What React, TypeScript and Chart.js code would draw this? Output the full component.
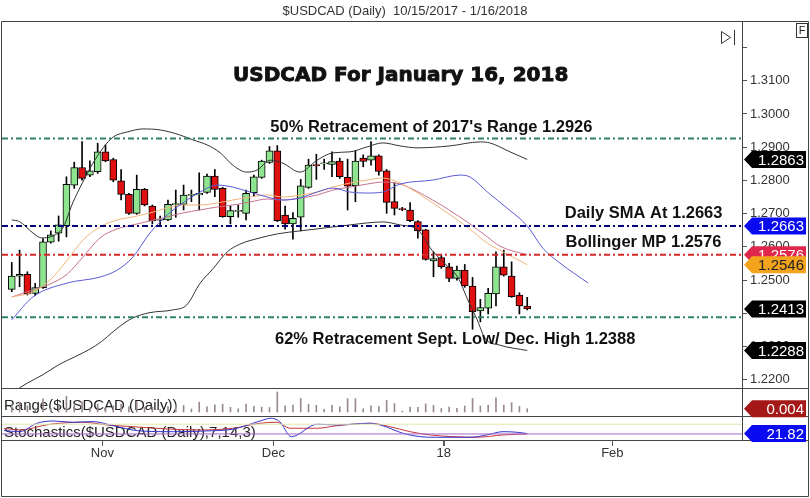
import React, { useEffect, useRef } from 'react';
import { Chart, registerables } from 'chart.js';

Chart.register(...registerables);

const FONT = "'Liberation Sans', Arial, Helvetica, sans-serif";

// ---------- DATA ----------
const opens = [1.2472, 1.2512, 1.2517, 1.2460, 1.2477, 1.2614, 1.2641, 1.2664, 1.2786, 1.2839, 1.2816, 1.2826, 1.2886, 1.2863, 1.2799, 1.2758, 1.2701, 1.2773, 1.2723, 1.2680, 1.2681, 1.2727, 1.2728, 1.2755, 1.2756, 1.2764, 1.2813, 1.2776, 1.2691, 1.2707, 1.2701, 1.2763, 1.2809, 1.2854, 1.2889, 1.2696, 1.2669, 1.2689, 1.2779, 1.2848, 1.2850, 1.2848, 1.2858, 1.2809, 1.2784, 1.2867, 1.2861, 1.2874, 1.2829, 1.2736, 1.2715, 1.2711, 1.2676, 1.2651, 1.2558, 1.2568, 1.2540, 1.2505, 1.2530, 1.2482, 1.2407, 1.2415, 1.2458, 1.2540, 1.2512, 1.2455, 1.2422];
const highs = [1.2553, 1.2590, 1.2525, 1.2490, 1.2625, 1.2648, 1.2693, 1.2811, 1.2855, 1.2917, 1.2859, 1.2912, 1.2907, 1.2867, 1.2833, 1.2761, 1.2816, 1.2776, 1.2726, 1.2693, 1.2741, 1.2771, 1.2786, 1.2771, 1.2823, 1.2819, 1.2833, 1.2779, 1.2723, 1.2726, 1.2771, 1.2816, 1.2861, 1.2902, 1.2905, 1.2723, 1.2703, 1.2803, 1.2864, 1.2879, 1.2864, 1.2886, 1.2867, 1.2864, 1.2889, 1.2877, 1.2917, 1.2877, 1.2833, 1.2793, 1.2719, 1.2733, 1.2679, 1.2653, 1.2585, 1.2575, 1.2550, 1.2542, 1.2547, 1.2508, 1.2442, 1.2475, 1.2585, 1.2590, 1.2555, 1.2462, 1.2448];
const lows = [1.2465, 1.2480, 1.2455, 1.2453, 1.2475, 1.2611, 1.2617, 1.2630, 1.2776, 1.2801, 1.2811, 1.2821, 1.2856, 1.2796, 1.2741, 1.2698, 1.2698, 1.2723, 1.2669, 1.2666, 1.2679, 1.2689, 1.2711, 1.2736, 1.2711, 1.2761, 1.2751, 1.2689, 1.2669, 1.2689, 1.2681, 1.2751, 1.2806, 1.2851, 1.2676, 1.2653, 1.2623, 1.2648, 1.2776, 1.2803, 1.2833, 1.2811, 1.2806, 1.2711, 1.2736, 1.2841, 1.2846, 1.2816, 1.2701, 1.2696, 1.2709, 1.2676, 1.2626, 1.2560, 1.2510, 1.2535, 1.2495, 1.2500, 1.2478, 1.2352, 1.2374, 1.2398, 1.2422, 1.2512, 1.2448, 1.2398, 1.2410];
const closes = [1.2512, 1.2517, 1.2458, 1.2477, 1.2615, 1.2636, 1.2666, 1.2788, 1.2839, 1.2806, 1.2829, 1.2886, 1.2859, 1.2801, 1.2758, 1.2701, 1.2773, 1.2726, 1.2679, 1.2682, 1.2728, 1.2730, 1.2756, 1.2757, 1.2761, 1.2813, 1.2773, 1.2691, 1.2709, 1.2710, 1.2761, 1.2811, 1.2858, 1.2889, 1.2679, 1.2669, 1.2686, 1.2784, 1.2846, 1.2844, 1.2852, 1.2857, 1.2811, 1.2783, 1.2858, 1.2857, 1.2874, 1.2827, 1.2734, 1.2716, 1.2712, 1.2679, 1.2648, 1.2562, 1.2565, 1.2540, 1.2505, 1.2530, 1.2482, 1.2405, 1.2417, 1.2460, 1.2540, 1.2515, 1.2450, 1.2422, 1.2413];
const dailyRange = [0.0088, 0.0110, 0.0070, 0.0037, 0.0150, 0.0037, 0.0076, 0.0181, 0.0079, 0.0116, 0.0048, 0.0091, 0.0051, 0.0071, 0.0092, 0.0063, 0.0118, 0.0053, 0.0057, 0.0027, 0.0062, 0.0082, 0.0075, 0.0035, 0.0112, 0.0058, 0.0082, 0.0090, 0.0054, 0.0037, 0.0090, 0.0065, 0.0055, 0.0051, 0.0229, 0.0070, 0.0080, 0.0155, 0.0088, 0.0076, 0.0031, 0.0075, 0.0061, 0.0153, 0.0153, 0.0036, 0.0071, 0.0061, 0.0132, 0.0097, 0.0010, 0.0057, 0.0053, 0.0093, 0.0075, 0.0040, 0.0055, 0.0042, 0.0069, 0.0156, 0.0068, 0.0077, 0.0163, 0.0078, 0.0107, 0.0064, 0.0038];

// [bar index, value]
const bbUpper = [[0, 1.2681], [1, 1.2676], [2.7, 1.2642], [3.8, 1.2627], [5.3, 1.2633], [6.6, 1.2660], [7.8, 1.2732], [9.1, 1.2795], [10.4, 1.2852], [11.7, 1.2898], [13, 1.2931], [14.8, 1.2946], [16.8, 1.2955], [19, 1.2952], [21.5, 1.2937], [23.2, 1.2922], [25, 1.2907], [26.7, 1.2883], [28.3, 1.2846], [30.1, 1.2825], [31.4, 1.2831], [33.1, 1.2861], [34.7, 1.2852], [36.9, 1.2825], [39.1, 1.2861], [41.1, 1.2883], [43.3, 1.2886], [45.5, 1.2901], [47.5, 1.2913], [49.7, 1.2904], [51.9, 1.2898], [56.1, 1.2904], [60, 1.2916], [61.2, 1.2913], [63.8, 1.2886], [66, 1.2863]];
const bbLower = [[0, 1.2160], [2, 1.2190], [4, 1.2215], [6, 1.2245], [8, 1.2268], [10, 1.2292], [11.5, 1.2315], [13, 1.2345], [14.5, 1.2372], [15.5, 1.2386], [17.7, 1.2402], [20.6, 1.2410], [22.4, 1.2425], [24.1, 1.2490], [25.8, 1.2535], [27.6, 1.2585], [29.2, 1.2608], [31.8, 1.2627], [34, 1.2639], [36.9, 1.2648], [39.1, 1.2654], [41.1, 1.2660], [43.3, 1.2666], [45.5, 1.2672], [47.5, 1.2675], [49.7, 1.2666], [52, 1.2651], [53.8, 1.2590], [55.9, 1.2539], [57.1, 1.2509], [58.4, 1.2440], [59.6, 1.2380], [60.6, 1.2325], [62.5, 1.2304], [66, 1.2288]];
const bbMiddle = [[0, 1.2449], [2.7, 1.2470], [4.9, 1.2488], [7.1, 1.2518], [9.1, 1.2569], [11.3, 1.2627], [13.5, 1.2654], [15.5, 1.2666], [17.7, 1.2678], [19.9, 1.2690], [21.9, 1.2702], [24.1, 1.2711], [26.3, 1.2720], [28.3, 1.2726], [30.5, 1.2735], [32.7, 1.2744], [34.7, 1.2741], [36.9, 1.2747], [39.1, 1.2756], [41.1, 1.2771], [43.3, 1.2780], [45.5, 1.2789], [47.5, 1.2795], [49.7, 1.2789], [53.9, 1.2741], [58.3, 1.2675], [60.9, 1.2630], [62.5, 1.2602], [66, 1.2576]];
const emaOrange = [[0, 1.2449], [2.7, 1.2464], [4.9, 1.2500], [7.1, 1.2560], [9.1, 1.2620], [11.3, 1.2660], [13.5, 1.2681], [15.5, 1.2690], [17.7, 1.2702], [19.9, 1.2717], [21.9, 1.2726], [24.1, 1.2726], [26.3, 1.2732], [28.3, 1.2741], [30.5, 1.2750], [32.7, 1.2756], [34.7, 1.2750], [36.9, 1.2756], [39.1, 1.2765], [41.1, 1.2780], [43.3, 1.2792], [45.5, 1.2801], [47.5, 1.2807], [49.7, 1.2792], [53.9, 1.2732], [58.3, 1.2660], [60.9, 1.2611], [62.5, 1.2590], [66, 1.2546]];
const smaBlue = [[0, 1.2380], [2.7, 1.2449], [7.1, 1.2491], [11.3, 1.2509], [13.5, 1.2530], [15.5, 1.2569], [17.7, 1.2642], [19.9, 1.2696], [21.9, 1.2732], [24.1, 1.2765], [26.3, 1.2786], [28.3, 1.2780], [30.5, 1.2765], [32.7, 1.2750], [34.7, 1.2741], [36.9, 1.2747], [39.1, 1.2765], [41.1, 1.2777], [43.3, 1.2765], [45.5, 1.2762], [47.5, 1.2765], [49.7, 1.2789], [53.9, 1.2801], [57.4, 1.2816], [58.7, 1.2810], [60.9, 1.2765], [63.4, 1.2717], [66, 1.2663], [68, 1.2596], [70.2, 1.2551], [73.8, 1.2491]];
const stochK = [[-1, 36], [1, 30.5], [3.2, 69], [5.3, 80], [7.8, 74], [10.4, 77], [13, 58], [16.4, 34], [20.7, 30.5], [25, 34], [28.3, 42], [31.8, 80], [33.1, 92.6], [34.3, 77], [35.8, 7.4], [39.1, 65], [41.6, 61.6], [45.9, 69.4], [47.5, 58], [50.1, 23], [52.3, 7.4], [54.4, 4.6], [58.7, 4.6], [60.8, 15.3], [62.9, 30.5], [64.7, 27.8], [66, 21.82]];
const stochD = [[-1, 46], [1, 38.4], [4.9, 64.8], [9.1, 74], [12.2, 61.6], [15.5, 53.7], [19.9, 43], [24.1, 38.4], [28.3, 46.3], [31.8, 69.4], [34, 74], [35.6, 46.3], [39.1, 46.3], [41.6, 58], [45.9, 69.4], [48.4, 53.7], [51, 30.5], [53.6, 15.3], [56.5, 7.4], [59.5, 4.6], [62.9, 15.3], [66, 20]];

const levelValues = [1.2926, 1.2663, 1.2576, 1.2388];
const stochLevels = [65, 20];
const priceTicks = [1.22, 1.23, 1.24, 1.25, 1.26, 1.27, 1.28, 1.29, 1.30, 1.31, 1.32];
const dateTickIndex = [11.6, 33.5, 55.3, 76.9];
const dateTickLabels = ['Nov', 'Dec', '18', 'Feb'];
const priceTagValues = [1.2863, 1.2663, 1.2576, 1.2546, 1.2413, 1.2288];
const rangeTagValue = 0.0038;
const stochTagValue = 21.82;
const titleText = '$USDCAD (Daily)  10/15/2017 - 1/16/2018';

// ---------- STYLE / LAYOUT ----------
const X_MIN = -1.25;
const X_MAX = 93.5;
const levelColors = ['#2f8465', '#00007a', '#d62828', '#2f8465'];
const tagBg = ['#000000', '#0a0af0', '#e0284c', '#f4a41c', '#000000', '#000000'];
const tagFg = ['#ffffff', '#ffffff', '#ffffff', '#222222', '#ffffff', '#ffffff'];

const toXY = (arr: number[][]) => arr.map(([x, y]) => ({ x, y }));

const lineDs = (data: number[][], color: string, axis = 'y', width = 1) => ({
  type: 'line',
  data: toXY(data),
  yAxisID: axis,
  borderColor: color,
  borderWidth: width,
  pointRadius: 0,
  fill: false,
  cubicInterpolationMode: 'monotone',
  order: 0,
});

const levelDs = (v: number, color: string, axis = 'y', width = 2, dash: number[] = [6, 3, 2, 3]) => ({
  type: 'line',
  data: [{ x: X_MIN, y: v }, { x: X_MAX, y: v }],
  yAxisID: axis,
  borderColor: color,
  borderWidth: width,
  borderDash: dash,
  pointRadius: 0,
  fill: false,
  order: 0,
});

const overlayPlugin = {
  id: 'overlay',
  beforeDatasetsDraw(chart: any) {
    const { ctx, chartArea } = chart;
    const yr = chart.scales.yRange;
    const yst = chart.scales.yStoch;
    ctx.save();
    ctx.font = `15px ${FONT}`;
    ctx.fillStyle = '#222';
    ctx.textAlign = 'left';
    ctx.textBaseline = 'alphabetic';
    ctx.fillText('Range($USDCAD (Daily))', chartArea.left + 2, yr.bottom - 6);
    ctx.fillText('Stochastics($USDCAD (Daily),7,14,3)', chartArea.left + 2, yst.bottom - 3);
    ctx.restore();
  },
  afterDraw(chart: any) {
    const { ctx, chartArea } = chart;
    const xs = chart.scales.x;
    const ys = chart.scales.y;
    const yr = chart.scales.yRange;
    const yst = chart.scales.yStoch;
    const W = chart.width;
    const H = chart.height;
    ctx.save();

    // title
    ctx.font = `13px ${FONT}`;
    ctx.fillStyle = '#333';
    ctx.textAlign = 'center';
    ctx.textBaseline = 'middle';
    ctx.fillText(titleText, W / 2, 11);

    // frame and separators
    const L = 1.5;
    const R = W - 1.5;
    const top = Math.round(ys.top) + 0.5;
    ctx.strokeStyle = '#444';
    ctx.lineWidth = 1;
    ctx.beginPath();
    ctx.rect(L, top, R - L, H - 1.5 - top);
    [ys.bottom, yr.bottom, yst.bottom].forEach((v: number) => {
      const yy = Math.round(v) + 0.5;
      ctx.moveTo(L, yy);
      ctx.lineTo(R, yy);
    });
    const rx = Math.round(chartArea.right) + 0.5;
    ctx.moveTo(rx, top);
    ctx.lineTo(rx, yst.bottom);
    ctx.stroke();

    // icons
    ctx.strokeStyle = '#333';
    ctx.beginPath();
    ctx.moveTo(721.5, 31.5);
    ctx.lineTo(730.5, 37.5);
    ctx.lineTo(721.5, 43.5);
    ctx.closePath();
    ctx.moveTo(734.5, 30);
    ctx.lineTo(734.5, 45);
    ctx.stroke();
    ctx.strokeRect(796.5, 23.5, 11, 14);
    ctx.fillStyle = '#222';
    ctx.font = `11px ${FONT}`;
    ctx.textAlign = 'center';
    ctx.textBaseline = 'middle';
    ctx.fillText('F', 802, 31);

    // annotations
    const px = (i: number) => xs.getPixelForValue(i);
    const py = (v: number) => ys.getPixelForValue(v);
    ctx.fillStyle = '#111';
    ctx.strokeStyle = '#111';
    ctx.font = "bold 20px 'DejaVu Sans', sans-serif";
    ctx.textAlign = 'center';
    ctx.lineWidth = 0.9;
    ctx.fillText('USDCAD For January 16, 2018', px(49.8), py(1.3114));
    ctx.strokeText('USDCAD For January 16, 2018', px(49.8), py(1.3114));
    ctx.font = `bold 16.5px ${FONT}`;
    ctx.textAlign = 'left';
    ctx.fillText("50% Retracement of 2017's Range 1.2926", px(33.1), py(levelValues[0]) - 11);
    ctx.fillText('Daily SMA At 1.2663', px(70.8), py(levelValues[1]) - 12);
    ctx.fillText('Bollinger MP 1.2576', px(70.9), py(levelValues[2]) - 12);
    ctx.fillText('62% Retracement Sept. Low/ Dec. High 1.2388', px(33.7), py(levelValues[3]) + 22);

    // x tick marks
    ctx.strokeStyle = '#555';
    ctx.beginPath();
    dateTickIndex.forEach((v) => {
      const xx = Math.round(px(v)) + 0.5;
      ctx.moveTo(xx, yst.bottom);
      ctx.lineTo(xx, yst.bottom + 6);
    });
    ctx.stroke();

    // value tags
    const tag = (yy: number, text: string, bg: string, fg: string) => {
      const tip = chartArea.right + 2;
      const bx = chartArea.right + 10;
      const ex = W - 4;
      const h = 17;
      ctx.fillStyle = bg;
      ctx.beginPath();
      ctx.moveTo(tip, yy);
      ctx.lineTo(bx, yy - h / 2);
      ctx.lineTo(ex, yy - h / 2);
      ctx.lineTo(ex, yy + h / 2);
      ctx.lineTo(bx, yy + h / 2);
      ctx.closePath();
      ctx.fill();
      ctx.fillStyle = fg;
      ctx.font = `15px ${FONT}`;
      ctx.textAlign = 'right';
      ctx.textBaseline = 'middle';
      ctx.fillText(text, ex - 2, yy + 1);
    };
    priceTagValues.forEach((v, i) => tag(py(v), v.toFixed(4), tagBg[i], tagFg[i]));
    tag(yr.getPixelForValue(rangeTagValue), rangeTagValue.toFixed(3), '#a51818', '#ffffff');
    tag(yst.getPixelForValue(stochTagValue), stochTagValue.toFixed(2), '#0a0af0', '#ffffff');
    ctx.restore();
  },
};

export default function App() {
  const ref = useRef<HTMLCanvasElement | null>(null);
  useEffect(() => {
    document.body.style.margin = '0';
    const canvas = ref.current;
    if (!canvas) return;
    Chart.defaults.font.family = FONT;

    const bodies = opens.map((o, i) => ({ x: i, y: [o, closes[i]] }));
    const wicks = lows.map((l, i) => ({ x: i, y: [l, highs[i]] }));
    const rangeBars = dailyRange.map((r, i) => ({ x: i, y: r }));
    const bodyColors = opens.map((o, i) => (closes[i] >= o ? '#8fe48f' : '#e01010'));

    const datasets: any[] = [
      ...levelValues.map((v, i) => levelDs(v, levelColors[i])),
      lineDs(bbUpper, '#333333'),
      lineDs(bbLower, '#333333'),
      lineDs(smaBlue, '#5a5ad8'),
      lineDs(emaOrange, '#f2b47a'),
      lineDs(bbMiddle, '#c8708c'),
      {
        type: 'bar',
        data: bodies,
        yAxisID: 'y',
        backgroundColor: bodyColors,
        borderColor: '#000',
        borderWidth: 1,
        borderSkipped: false,
        barThickness: 7,
        grouped: false,
        minBarLength: 1,
        order: 1,
      },
      {
        type: 'bar',
        data: wicks,
        yAxisID: 'y',
        backgroundColor: '#000',
        borderWidth: 0,
        barThickness: 1,
        grouped: false,
        order: 2,
      },
      {
        type: 'bar',
        data: rangeBars,
        yAxisID: 'yRange',
        backgroundColor: '#9b8a8a',
        borderWidth: 0,
        barThickness: 1,
        grouped: false,
        order: 1,
      },
      levelDs(stochLevels[0], '#dfe6b0', 'yStoch', 1, []),
      levelDs(stochLevels[1], '#a468c8', 'yStoch', 1, []),
      lineDs(stochK, '#3434d0', 'yStoch'),
      lineDs(stochD, '#c83838', 'yStoch'),
    ];

    const chart = new Chart(canvas, {
      type: 'bar',
      data: { datasets },
      options: {
        responsive: false,
        animation: false,
        events: [],
        layout: { padding: { left: 2, top: 21, right: 0, bottom: 0 } },
        plugins: { legend: { display: false }, tooltip: { enabled: false } },
        scales: {
          x: {
            type: 'linear',
            min: X_MIN,
            max: X_MAX,
            offset: false,
            afterBuildTicks: (s: any) => {
              s.ticks = dateTickIndex.map((v) => ({ value: v }));
            },
            afterFit: (s: any) => {
              s.height = 58;
            },
            ticks: {
              autoSkip: false,
              maxRotation: 0,
              padding: 0,
              color: '#333',
              font: { size: 13, family: FONT },
              callback: (_v: any, i: number) => dateTickLabels[i],
            },
            grid: { display: true, offset: false, drawOnChartArea: false, drawTicks: true, tickLength: 6, color: '#555' },
            border: { display: false },
          },
          y: {
            type: 'linear',
            position: 'right',
            stack: 'panes',
            stackWeight: 367,
            min: 1.2175,
            max: 1.328,
            afterBuildTicks: (s: any) => {
              s.ticks = priceTicks.map((v) => ({ value: v }));
            },
            afterFit: (s: any) => {
              s.width = 68;
            },
            ticks: {
              padding: 3,
              color: '#333',
              font: { size: 13, family: FONT },
              callback: (v: any) => (v > 1.3195 ? '' : Number(v).toFixed(4)),
            },
            grid: { display: true, drawOnChartArea: false, drawTicks: true, tickLength: 5, color: '#555' },
            border: { display: true, color: '#777' },
          },
          yRange: {
            type: 'linear',
            position: 'right',
            stack: 'panes',
            stackWeight: 28,
            min: -0.0046,
            max: 0.0275,
            afterFit: (s: any) => {
              s.width = 68;
            },
            ticks: { display: false },
            grid: { display: false },
            border: { display: true, color: '#777' },
          },
          yStoch: {
            type: 'linear',
            position: 'right',
            stack: 'panes',
            stackWeight: 24,
            min: -8,
            max: 103,
            afterFit: (s: any) => {
              s.width = 68;
            },
            ticks: { display: false },
            grid: { display: false },
            border: { display: true, color: '#777' },
          },
        },
      } as any,
      plugins: [overlayPlugin],
    } as any);
    return () => chart.destroy();
  }, []);
  return <canvas ref={ref} width={810} height={498} style={{ display: 'block', width: 810, height: 498 }} />;
}
